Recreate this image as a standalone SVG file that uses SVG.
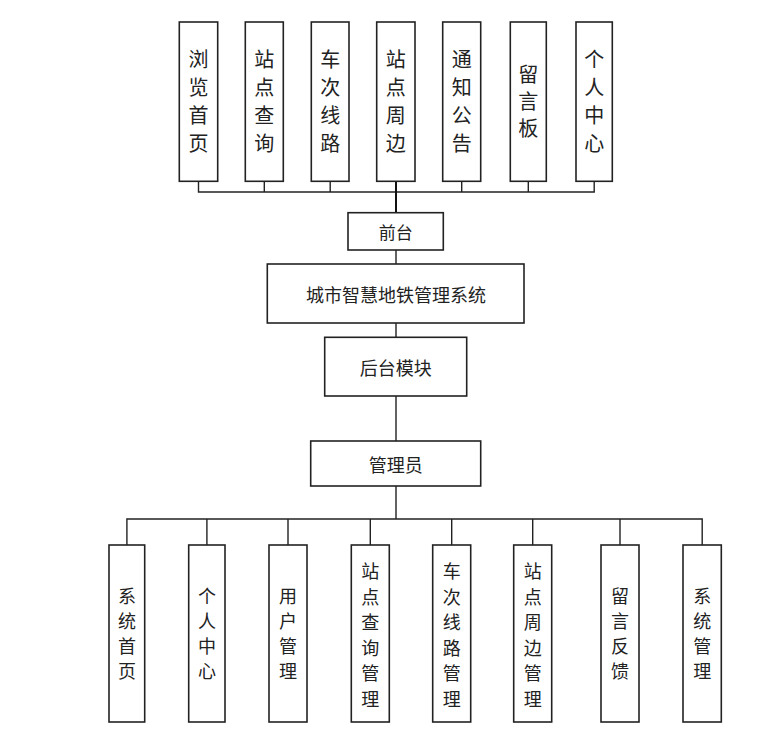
<svg xmlns="http://www.w3.org/2000/svg" width="767" height="740" viewBox="0 0 767 740">
<style>
.box{fill:#fff;stroke:#222;stroke-width:1.6}
.ln{fill:none;stroke:#222;stroke-width:1.4}
.thick{fill:none;stroke:#111;stroke-width:2}
text{font-family:"Noto Sans CJK SC","Noto Sans",sans-serif;fill:#222;text-anchor:middle;dominant-baseline:central}
.t20{font-size:20px}
.t18{font-size:18px}
.t17{font-size:17px}
</style>
<rect width="767" height="740" fill="#fff"/>
<g id="connectors">
  <path class="ln" d="M198.5,181V192H594.2V181M264.3,181V192M330.2,181V192M461.7,181V192M528.3,181V192"/>
  <path class="thick" d="M396,181V212.7"/>
  <path class="ln" d="M396,250V264M396,323V337.3M396,396V441M396,486V519"/>
  <path class="ln" d="M126.9,545V519H702.2V545M206.9,519V545M288,519V545M370.3,519V545M451.7,519V545M532.7,519V545M620,519V545"/>
</g>
<g id="n_browse"><rect class="box" x="179.3" y="22" width="38.4" height="159.3"/><text class="t20" x="198.5"><tspan x="198.5" y="58">浏</tspan><tspan x="198.5" y="86">览</tspan><tspan x="198.5" y="114">首</tspan><tspan x="198.5" y="142">页</tspan></text></g>
<g id="n_station_query"><rect class="box" x="245.3" y="22" width="38" height="159.3"/><text class="t20"><tspan x="264.3" y="58">站</tspan><tspan x="264.3" y="86">点</tspan><tspan x="264.3" y="114">查</tspan><tspan x="264.3" y="142">询</tspan></text></g>
<g id="n_route"><rect class="box" x="311.3" y="22" width="37.7" height="159.3"/><text class="t20"><tspan x="330.2" y="58">车</tspan><tspan x="330.2" y="86">次</tspan><tspan x="330.2" y="114">线</tspan><tspan x="330.2" y="142">路</tspan></text></g>
<g id="n_around"><rect class="box" x="376.7" y="22" width="38.3" height="159.3"/><text class="t20"><tspan x="395.8" y="58">站</tspan><tspan x="395.8" y="86">点</tspan><tspan x="395.8" y="114">周</tspan><tspan x="395.8" y="142">边</tspan></text></g>
<g id="n_notice"><rect class="box" x="442.7" y="22" width="38" height="159.3"/><text class="t20"><tspan x="461.7" y="58">通</tspan><tspan x="461.7" y="86">知</tspan><tspan x="461.7" y="114">公</tspan><tspan x="461.7" y="142">告</tspan></text></g>
<g id="n_board"><rect class="box" x="510.3" y="22" width="36" height="159.3"/><text class="t20"><tspan x="528.3" y="73">留</tspan><tspan x="528.3" y="100">言</tspan><tspan x="528.3" y="127">板</tspan></text></g>
<g id="n_personal"><rect class="box" x="576" y="22" width="36.3" height="159.3"/><text class="t20"><tspan x="594.2" y="58">个</tspan><tspan x="594.2" y="86">人</tspan><tspan x="594.2" y="114">中</tspan><tspan x="594.2" y="142">心</tspan></text></g>
<g id="n_front"><rect class="box" x="348" y="212.7" width="95.3" height="37.3"/><text class="t17" x="395.7" y="231">前台</text></g>
<g id="n_system"><rect class="box" x="267.3" y="264" width="256.7" height="59"/><text class="t18" x="396" y="293.5">城市智慧地铁管理系统</text></g>
<g id="n_backend"><rect class="box" x="324.7" y="337.3" width="142" height="58.7"/><text class="t18" x="395.7" y="366.7">后台模块</text></g>
<g id="n_admin"><rect class="box" x="310.7" y="441" width="170" height="45"/><text class="t18" x="395.7" y="463.5">管理员</text></g>
<g id="b_home"><rect class="box" x="109" y="545" width="35.7" height="177"/><text class="t18"><tspan x="126.9" y="595">系</tspan><tspan x="126.9" y="620">统</tspan><tspan x="126.9" y="645">首</tspan><tspan x="126.9" y="670">页</tspan></text></g>
<g id="b_personal"><rect class="box" x="188.7" y="545" width="36.3" height="177"/><text class="t18"><tspan x="206.9" y="595">个</tspan><tspan x="206.9" y="620">人</tspan><tspan x="206.9" y="645">中</tspan><tspan x="206.9" y="670">心</tspan></text></g>
<g id="b_user"><rect class="box" x="269" y="545" width="38" height="177"/><text class="t18"><tspan x="288" y="595">用</tspan><tspan x="288" y="620">户</tspan><tspan x="288" y="645">管</tspan><tspan x="288" y="670">理</tspan></text></g>
<g id="b_station"><rect class="box" x="351.3" y="545" width="38" height="177"/><text class="t18"><tspan x="370.3" y="570">站</tspan><tspan x="370.3" y="595.5">点</tspan><tspan x="370.3" y="621">查</tspan><tspan x="370.3" y="646.5">询</tspan><tspan x="370.3" y="672">管</tspan><tspan x="370.3" y="697.5">理</tspan></text></g>
<g id="b_route"><rect class="box" x="432.7" y="545" width="38" height="177"/><text class="t18"><tspan x="451.7" y="570">车</tspan><tspan x="451.7" y="595.5">次</tspan><tspan x="451.7" y="621">线</tspan><tspan x="451.7" y="646.5">路</tspan><tspan x="451.7" y="672">管</tspan><tspan x="451.7" y="697.5">理</tspan></text></g>
<g id="b_around"><rect class="box" x="513.7" y="545" width="38" height="177"/><text class="t18"><tspan x="532.7" y="570">站</tspan><tspan x="532.7" y="595.5">点</tspan><tspan x="532.7" y="621">周</tspan><tspan x="532.7" y="646.5">边</tspan><tspan x="532.7" y="672">管</tspan><tspan x="532.7" y="697.5">理</tspan></text></g>
<g id="b_feedback"><rect class="box" x="601" y="545" width="38" height="177"/><text class="t18"><tspan x="620" y="595">留</tspan><tspan x="620" y="620">言</tspan><tspan x="620" y="645">反</tspan><tspan x="620" y="670">馈</tspan></text></g>
<g id="b_sysmgr"><rect class="box" x="683" y="545" width="38.3" height="177"/><text class="t18"><tspan x="702.2" y="595">系</tspan><tspan x="702.2" y="620">统</tspan><tspan x="702.2" y="645">管</tspan><tspan x="702.2" y="670">理</tspan></text></g>
</svg>
